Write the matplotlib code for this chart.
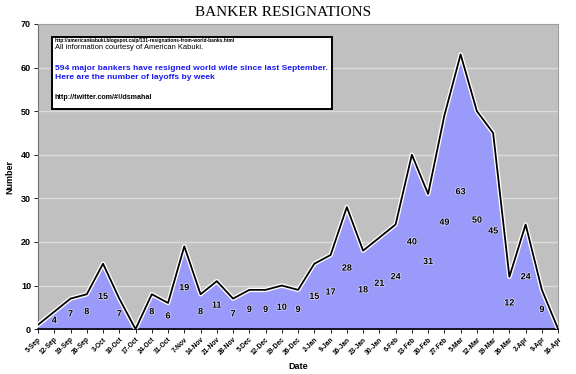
import matplotlib.pyplot as plt
import matplotlib.patheffects as pe
from matplotlib.patches import Rectangle

# weekly banker resignations, Sep 2008 - Apr 2009
weeks = ["5-Sep", "12-Sep", "19-Sep", "26-Sep", "3-Oct", "10-Oct", "17-Oct",
         "24-Oct", "31-Oct", "7-Nov", "14-Nov", "21-Nov", "28-Nov", "5-Dec",
         "12-Dec", "19-Dec", "26-Dec", "2-Jan", "9-Jan", "16-Jan", "23-Jan",
         "30-Jan", "6-Feb", "13-Feb", "20-Feb", "27-Feb", "5-Mar", "12-Mar",
         "19-Mar", "26-Mar", "2-Apr", "9-Apr", "16-Apr"]
resignations = [1, 4, 7, 8, 15, 7, 0, 8, 6, 19, 8, 11, 7, 9, 9, 10, 9,
                15, 17, 28, 18, 21, 24, 40, 31, 49, 63, 50, 45, 12, 24, 9, 0]
y_ticks = [0, 10, 20, 30, 40, 50, 60, 70]

title = "BANKER RESIGNATIONS"
note_url = "http://americankabuki.blogspot.ca/p/131-resignations-from-world-banks.html"
note_src = "All information courtesy of American Kabuki."
note_main = ("594 major bankers have resigned world wide since last September.\n"
             "Here are the number of layoffs by week")
note_twitter = "http://twitter.com/#!/dsmahal"

plt.rcParams['font.family'] = ['Liberation Sans', 'DejaVu Sans']

fig = plt.figure(figsize=(5.76, 3.74), dpi=100)
ax = fig.add_axes([0.066, 0.120, 0.903, 0.816])
ax.set_facecolor("#C0C0C0")

x = list(range(len(weeks)))
ax.fill_between(x, resignations, 0, color="#9A9AFA", zorder=2)
ax.plot(x, resignations, color="black", lw=1.3, zorder=3,
        path_effects=[pe.Stroke(linewidth=3.2, foreground="white"), pe.Normal()])

# Excel-style labels sitting in the middle of the area
for xi, v in zip(x, resignations):
    if v > 1:
        ax.text(xi, v / 2, str(v), ha="center", va="center", fontsize=6.5,
                fontweight="bold", color="black", zorder=4,
                path_effects=[pe.withStroke(linewidth=1.0, foreground="#D8D8FF")])

for yv in y_ticks[1:-1]:
    ax.axhline(yv, color="#DCDCDC", lw=1.0, zorder=1)

ax.set_xlim(0, len(weeks) - 1)
ax.set_ylim(0, 70)
ax.set_yticks(y_ticks)
ax.set_yticklabels([str(t) for t in y_ticks], fontsize=6.5, fontweight="bold")
ax.set_xticks(x)
ax.set_xticklabels(weeks, rotation=45, ha="right", rotation_mode="anchor",
                   fontsize=4.8, fontweight="bold")
ax.tick_params(axis="x", length=3, width=0.6, pad=2)
ax.tick_params(axis="y", length=3, width=0.6, pad=2)

for side in ["top", "right"]:
    ax.spines[side].set_color("#A0A0A0")
ax.spines["left"].set_color("#707070")
ax.spines["bottom"].set_color("black")
ax.spines["bottom"].set_linewidth(1.2)

ax.set_xlabel("Date", fontsize=6.5, fontweight="bold", labelpad=4)
ax.set_ylabel("Number", fontsize=6.5, fontweight="bold", labelpad=5)

fig.text(0.492, 0.967, title, ha="center", va="center", fontsize=11,
         family="Liberation Serif")

# annotation box
fig.patches.append(Rectangle((0.090, 0.709), 0.487, 0.192, transform=fig.transFigure,
                             facecolor="white", edgecolor="black", lw=1.4,
                             zorder=5))
fig.text(0.095, 0.892, note_url, fontsize=3.5, fontweight="bold", va="center", zorder=6)
fig.text(0.095, 0.872, note_src, fontsize=5.4, va="center", zorder=6)
fig.text(0.095, 0.805, note_main, fontsize=6.1, fontweight="bold", color="#1A1AF0",
         va="center", linespacing=1.3, zorder=6)
fig.text(0.095, 0.738, note_twitter, fontsize=5.1, fontweight="bold", va="center", zorder=6)

fig.savefig("out.png", dpi=100)
